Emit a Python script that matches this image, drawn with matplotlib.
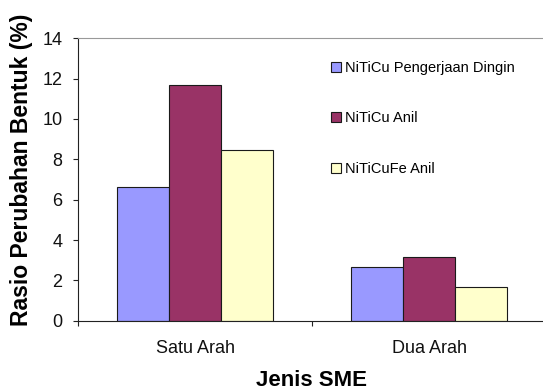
import matplotlib
matplotlib.use("Agg")
import matplotlib.pyplot as plt
from matplotlib.ticker import FixedLocator
import numpy as np

plt.rcParams['font.family'] = ['Liberation Sans', 'DejaVu Sans']

categories = ["Satu Arah", "Dua Arah"]
series_names = ["NiTiCu Pengerjaan Dingin", "NiTiCu Anil", "NiTiCuFe Anil"]
cold_worked = [6.64, 2.68]
niticu_annealed = [11.68, 3.14]
niticufe_annealed = [8.46, 1.67]
y_ticks = [0, 2, 4, 6, 8, 10, 12, 14]

colors = ["#9999FF", "#993366", "#FFFFCC"]

fig = plt.figure(figsize=(5.43, 3.91), dpi=100)
fig.patch.set_facecolor("white")
ax = fig.add_axes([78 / 543, 70.3 / 391, 468 / 543, 282.4 / 391])

x = np.arange(len(categories))
width = 0.6667 / 3
values = [cold_worked, niticu_annealed, niticufe_annealed]
for i, (name, vals, c) in enumerate(zip(series_names, values, colors)):
    ax.bar(x + (i - 1) * width, vals, width, color=c, edgecolor="#1a1a1a",
           linewidth=0.8, label=name, zorder=2)

ax.set_xlim(-0.5, 1.5)
ax.set_ylim(0, 14)
ax.set_yticks(y_ticks)
ax.set_yticklabels([str(t) for t in y_ticks])
ax.set_xticks(x)
ax.set_xticklabels(categories)
ax.xaxis.set_minor_locator(FixedLocator([-0.5, 0.5, 1.5]))

ax.tick_params(axis="y", direction="out", length=3.6, width=0.8,
               color="#222222", labelsize=13, pad=7.5, labelcolor="#111111")
ax.tick_params(axis="x", which="major", length=0, labelsize=13, pad=14,
               labelcolor="#111111")
ax.tick_params(axis="x", which="minor", direction="out", length=3.6,
               width=0.8, color="#222222")

for side in ("left", "bottom"):
    ax.spines[side].set_color("#222222")
    ax.spines[side].set_linewidth(0.8)
ax.spines["top"].set_color("#999999")
ax.spines["top"].set_linewidth(0.8)
ax.spines["right"].set_visible(False)

fig.text(312 / 543, 1 - 380 / 391, "Jenis SME", ha="center", va="center",
         fontsize=16, fontweight="bold")
fig.text(22 / 543, 1 - 170 / 391, "Rasio Perubahan Bentuk (%)", ha="center",
         va="center", rotation=90, fontsize=16.5, fontweight="bold")

ax.legend(loc="upper left", bbox_to_anchor=(331 / 543, 1 - 61 / 391),
          bbox_transform=fig.transFigure, frameon=False, fontsize=10.5,
          handlelength=0.7, handleheight=0.7, handletextpad=0.25,
          labelspacing=2.5, borderpad=0, borderaxespad=0)

fig.savefig("out.png", dpi=100)
